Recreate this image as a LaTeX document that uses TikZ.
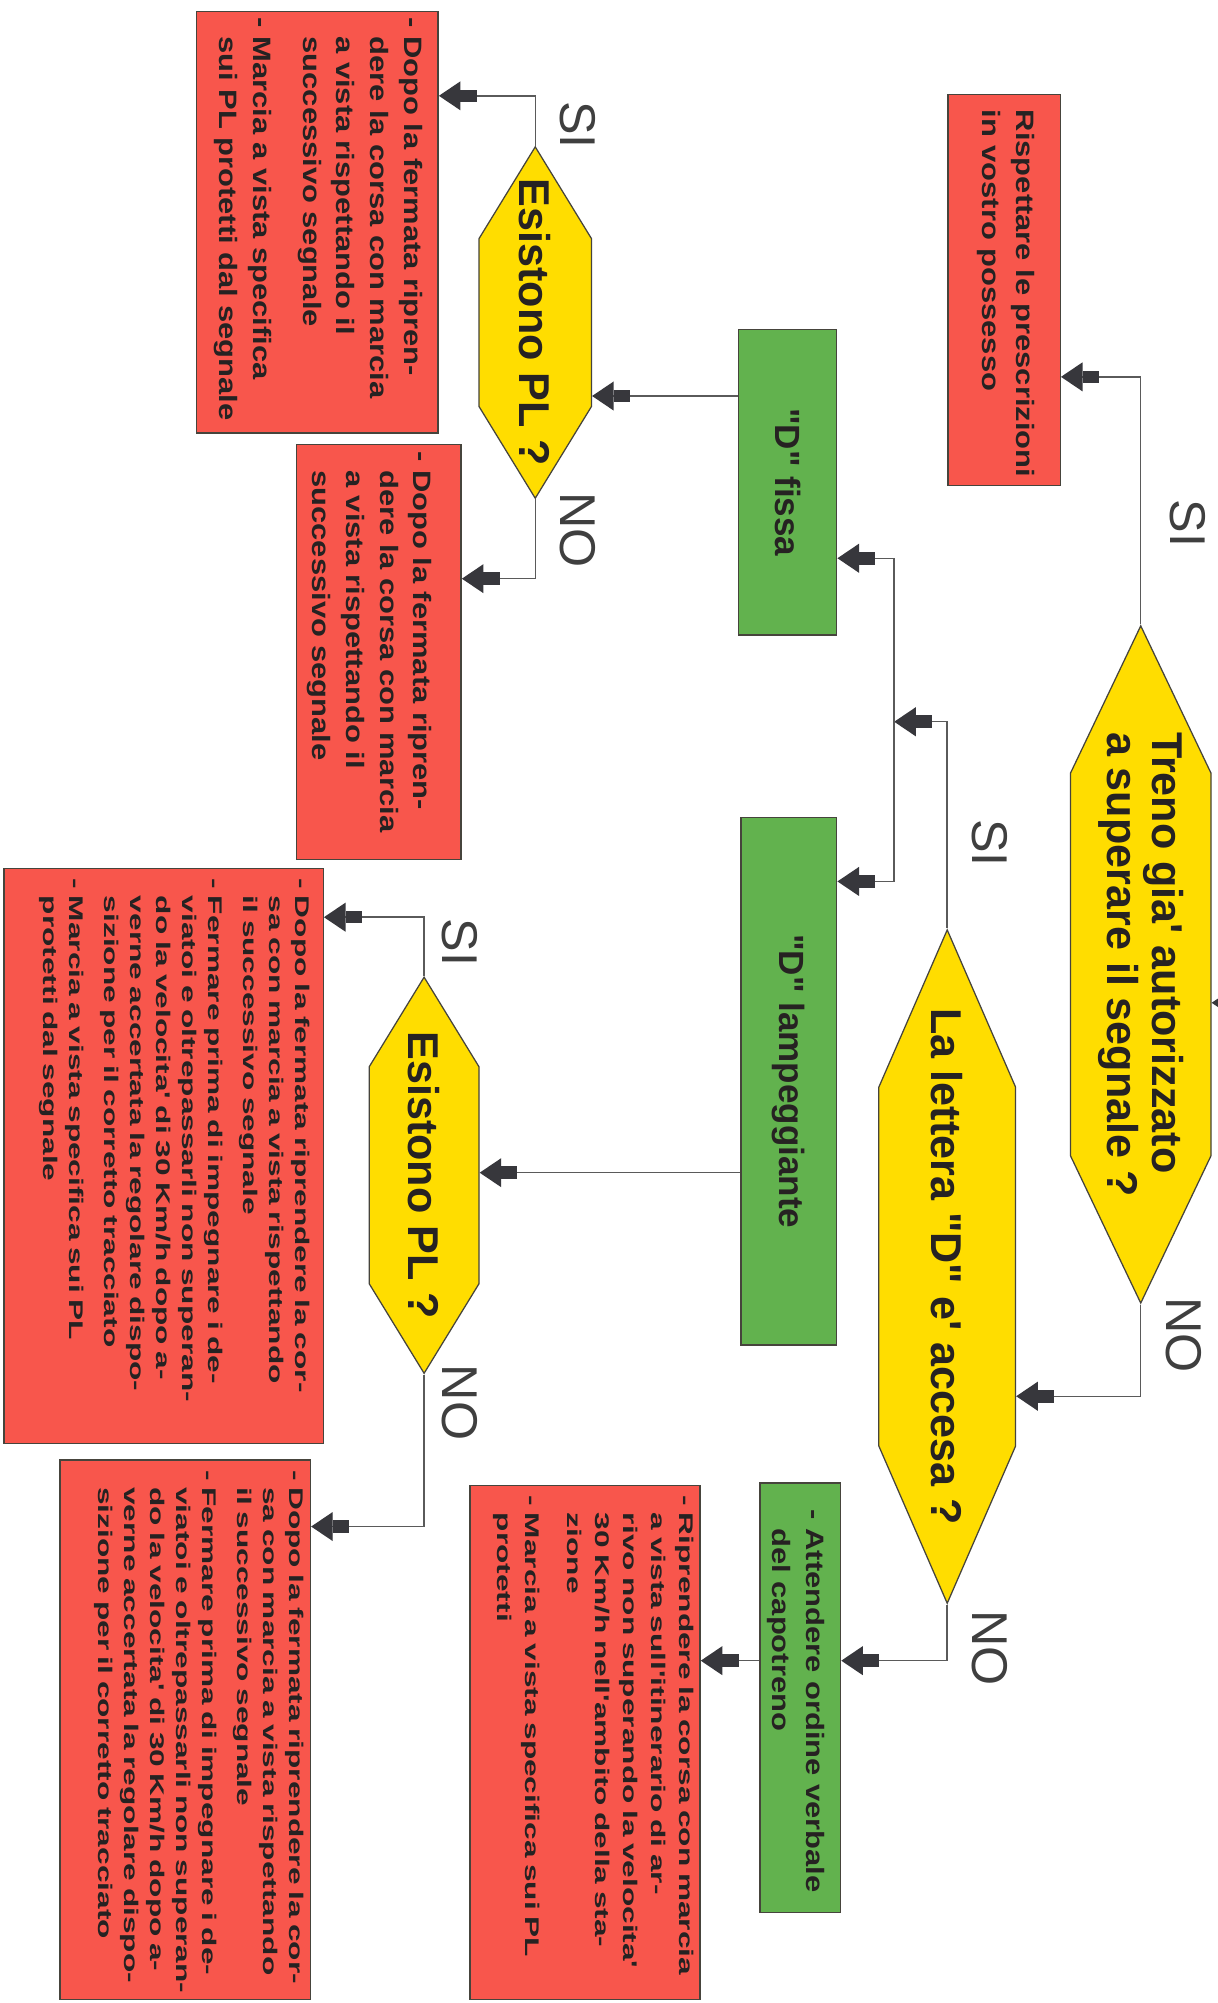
\documentclass[tikz,border=0pt]{standalone}
\usepackage{fontspec}
\setmainfont{Liberation Sans}
\newfontfamily\fontbase{Liberation Sans}
\newfontfamily\fontmedia[FakeStretch=1.23]{Liberation Sans}
\newfontfamily\fontpiccola[FakeStretch=1.6]{Liberation Sans}
\usepackage{tikz}
\usetikzlibrary{arrows.meta, shapes.symbols}

\definecolor{rosso}{RGB}{248,86,76}
\definecolor{verde}{RGB}{98,178,78}
\definecolor{giallo}{RGB}{255,221,0}
\definecolor{bordo}{RGB}{70,68,60}
\definecolor{linea}{RGB}{90,90,90}
\definecolor{punta}{RGB}{55,55,60}
\definecolor{testo}{RGB}{38,34,34}

\begin{document}
\begin{tikzpicture}[x=0.025cm, y=-0.025cm,
    domanda/.style={signal, signal to=west and east, rotate=-90,
      draw=bordo, fill=giallo, line width=0.7pt, inner xsep=-4cm,
      inner ysep=0pt, text=testo, align=left,
      font=\fontbase\bfseries\fontsize{24}{25}\selectfont},
    verdebox/.style={rectangle, rotate=-90, draw=bordo, fill=verde,
      line width=0.8pt, inner sep=0pt, text=testo,
      font=\fontbase\bfseries\fontsize{19.5}{20}\selectfont},
    nota/.style={rectangle, rotate=-90, draw=bordo, line width=0.8pt,
      inner xsep=0.125cm, inner ysep=0pt, text=testo},
    media/.style={font=\fontmedia\bfseries\fontsize{14}{18.8}\selectfont},
    piccola/.style={font=\fontpiccola\bfseries\fontsize{11}{14.5}\selectfont},
    scelta/.style={rotate=-90, inner sep=0pt, text=linea!70!black,
      font=\fontbase\fontsize{28}{28}\selectfont},
    freccia/.style={draw=linea, line width=0.8pt,
      -{Rectangle[length=9pt,width=7pt,sep=0pt,color=punta]Triangle[length=12pt,width=16pt,color=punta]}}]

  \fill[white] (0,0) rectangle (953,1568);
  \useasboundingbox (0,0) rectangle (953,1568);

  % Domande
  \node[domanda, signal pointer angle=51, minimum width=13.25cm,
        minimum height=2.75cm] (h1) at (893,755)
        {Treno gia' autorizzato\\a superare il segnale ?};
  \node[domanda, signal pointer angle=47, minimum width=13.175cm,
        minimum height=2.675cm] (h2) at (741.5,991.5)
        {La lettera "D" e' accesa ?};
  \node[domanda, signal pointer angle=63, minimum width=6.875cm,
        minimum height=2.2cm] (h3) at (419,252.5) {Esistono PL ?};
  \node[domanda, signal pointer angle=63, minimum width=7.75cm,
        minimum height=2.15cm] (h4) at (332,920) {Esistono PL ?};

  % Stato della lettera D
  \node[verdebox, minimum width=5.975cm, minimum height=1.925cm] (g1)
        at (616.5,377.5) {"D" fissa};
  \node[verdebox, minimum width=10.325cm, minimum height=1.875cm] (g2)
        at (617.5,846.5) {"D" lampeggiante};
  \node[nota, media, fill=verde, inner xsep=0.525cm, text width=7.35cm,
        text height=0.675cm, text depth=0.9cm] (g3) at (626.5,1329)
        {\begin{tabular}[t]{@{}l@{\ }l@{}}
         - & Attendere ordine verbale\\
           & del capotreno
         \end{tabular}};

  % Prescrizioni
  \node[nota, media, fill=rosso, inner xsep=0.3cm, text width=7.05cm,
        text height=0.86cm, text depth=1.34cm] (r1) at (786,227)
        {\begin{tabular}[t]{@{}l@{}}
         Rispettare le prescrizioni\\
         in vostro possesso
         \end{tabular}};
  \node[nota, media, fill=rosso, text width=8cm,
        text height=0.66cm, text depth=4.065cm] (r2) at (248.5,174)
        {\begin{tabular}[t]{@{}l@{\ }l@{}}
         - & Dopo la fermata ripren-\\
           & dere la corsa con marcia\\
           & a vista rispettando il\\
           & successivo segnale\\[9pt]
         - & Marcia a vista specifica\\
           & sui PL protetti dal segnale
         \end{tabular}};
  \node[nota, media, fill=rosso, inner xsep=0.14cm, text width=7.845cm,
        text height=0.925cm, text depth=2.3cm] (r3) at (296.5,510.5)
        {\begin{tabular}[t]{@{}l@{\ }l@{}}
         - & Dopo la fermata ripren-\\
           & dere la corsa con marcia\\
           & a vista rispettando il\\
           & successivo segnale
         \end{tabular}};
  \node[nota, piccola, fill=rosso, inner xsep=0.2cm, text width=10.85cm,
        text height=0.54cm, text depth=5.71cm] (r4) at (128,905)
        {\begin{tabular}[t]{@{}l@{\ }l@{}}
         - & Dopo la fermata riprendere la cor-\\
           & sa con marcia a vista rispettando\\
           & il successivo segnale\\[5pt]
         - & Fermare prima di impegnare i de-\\
           & viatoi e oltrepassarli non superan-\\
           & do la velocita' di 30 Km/h dopo a-\\
           & verne accertata la regolare dispo-\\
           & sizione per il corretto tracciato\\[5pt]
         - & Marcia a vista specifica sui PL\\
           & protetti dal segnale
         \end{tabular}};
  \node[nota, piccola, fill=rosso, inner xsep=0.2cm, text width=10.15cm,
        text height=0.41cm, text depth=4.49cm] (r5) at (145,1354)
        {\begin{tabular}[t]{@{}l@{\ }l@{}}
         - & Dopo la fermata riprendere la cor-\\
           & sa con marcia a vista rispettando\\
           & il successivo segnale\\[5pt]
         - & Fermare prima di impegnare i de-\\
           & viatoi e oltrepassarli non superan-\\
           & do la velocita' di 30 Km/h dopo a-\\
           & verne accertata la regolare dispo-\\
           & sizione per il corretto tracciato
         \end{tabular}};
  \node[nota, piccola, fill=rosso, inner xsep=0.2cm, text width=9.65cm,
        text height=0.41cm, text depth=4.09cm,
        font=\fontpiccola\bfseries\fontsize{11}{15.5}\selectfont] (r6) at (458,1364)
        {\begin{tabular}[t]{@{}l@{\ }l@{}}
         - & Riprendere la corsa con marcia\\
           & a vista sull'itinerario di ar-\\
           & rivo non superando la velocita'\\
           & 30 Km/h nell'ambito della sta-\\
           & zione\\[8pt]
         - & Marcia a vista specifica sui PL\\
           & protetti
         \end{tabular}};

  % Etichette SI / NO
  \node[scelta] (si1) at (930,410) {SI};
  \node[scelta] (no1) at (927,1045) {NO};
  \node[scelta] (si2) at (775,660) {SI};
  \node[scelta] (no2) at (775,1290) {NO};
  \node[scelta] (si3) at (452,98) {SI};
  \node[scelta] (no3) at (452,415) {NO};
  \node[scelta] (si4) at (360,738) {SI};
  \node[scelta] (no4) at (360,1098) {NO};

  % Collegamenti
  \coordinate (ingresso) at (1000,785);
  \coordinate (bivio) at (700,565);
  \draw[freccia] (ingresso) -- (ingresso -| h1.north);
  \draw[freccia] (h1.west) |- (r1.north |- 0,295);
  \draw[freccia] (h1.east) |- (h2.north |- 0,1093);
  \draw[freccia] (h2.west) |- (bivio);
  \draw[freccia] (bivio) |- (g1.north |- 0,437);
  \draw[freccia] (bivio) |- (g2.north |- 0,690);
  \draw[freccia] (g1.south |- 0,310) -- (h3.north |- 0,310);
  \draw[freccia] (g2.south |- 0,918) -- (h4.north |- 0,918);
  \draw[freccia] (h3.west) |- (r2.north |- 0,75);
  \draw[freccia] (h3.east) |- (r3.north |- 0,453);
  \draw[freccia] (h4.west) |- (r4.north |- 0,718);
  \draw[freccia] (h4.east) |- (r5.north |- 0,1195);
  \draw[freccia] (h2.east) |- (g3.north |- 0,1300);
  \draw[freccia] (g3.south |- 0,1300) -- (r6.north |- 0,1300);

\end{tikzpicture}
\end{document}
